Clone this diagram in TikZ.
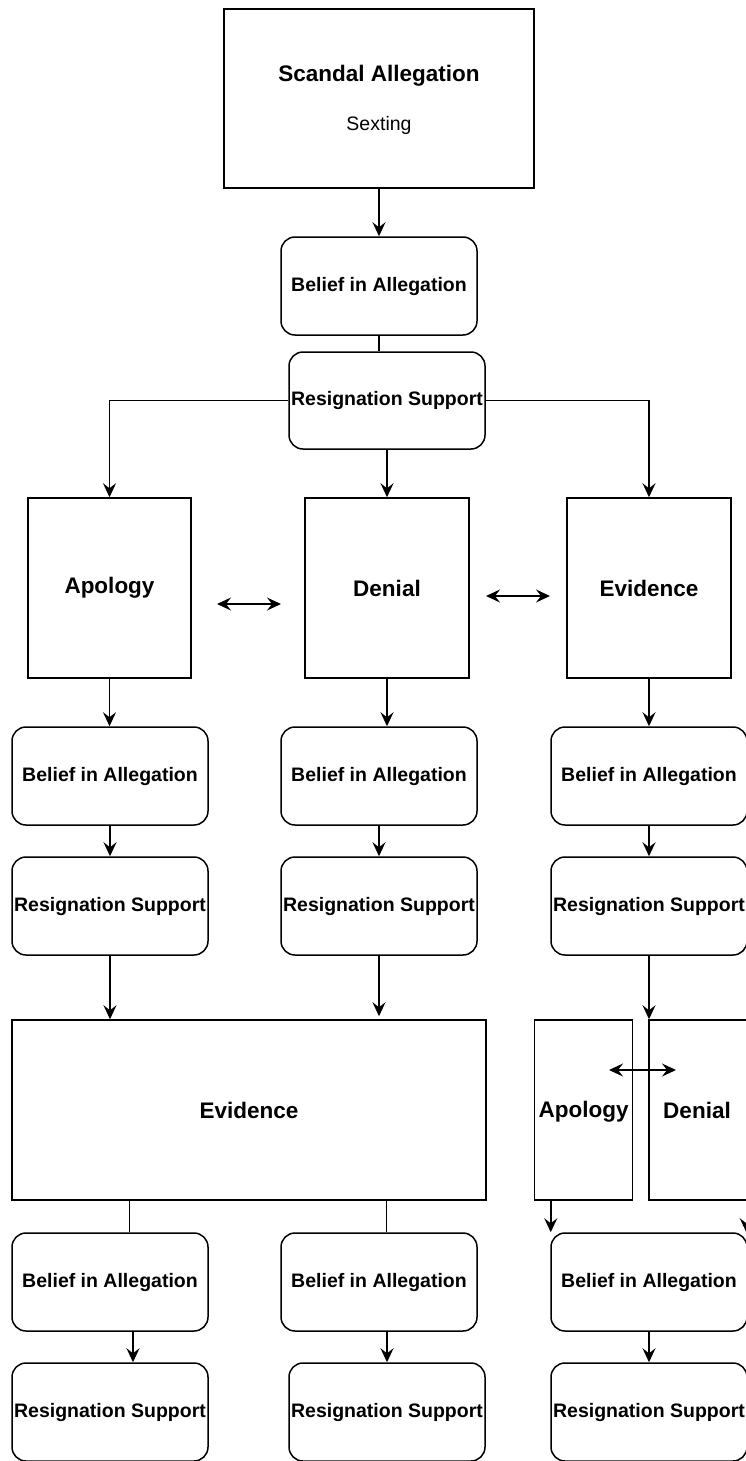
\documentclass[tikz,border=0pt]{standalone}
\usepackage{fontspec}
\setmainfont{Liberation Sans}
\usetikzlibrary{arrows.meta}
\begin{document}
\begin{tikzpicture}[x=1pt,y=-1pt,
  line width=1.5pt,
  base/.style={draw=black, line width=1.5pt, inner sep=0pt, font=\fontsize{19.5}{23}\selectfont\bfseries, align=center},
  rbox/.style={base, rectangle, rounded corners=14pt, minimum width=196pt, minimum height=98pt},
  sbox/.style={base, rectangle, font=\fontsize{22.5}{27}\selectfont\bfseries},
  arr/.style={-{Stealth[length=14pt,width=13pt,inset=5pt]}},
  darr/.style={{Stealth[length=14pt,width=13pt,inset=5pt]}-{Stealth[length=14pt,width=13pt,inset=5pt]}},
  txt/.style={inner sep=0pt}
]
\useasboundingbox[fill=white] (0,0) rectangle (745,1461);

% top
\node[sbox, minimum width=310pt, minimum height=179pt] (scandal) at (379,98.5) {};
\node[txt, font=\fontsize{22.5}{27}\selectfont\bfseries] (stitle) at (379,76) {Scandal Allegation};
\node[txt, font=\fontsize{19.5}{23}\selectfont] (ssub) at (379,125) {Sexting};
\node[rbox] (b0) at (379,286) {Belief in Allegation};
\node[rbox, minimum height=97pt] (r0) at (387,400.5) {Resignation Support};

% row 1
\node[sbox, minimum width=163pt, minimum height=180pt] (apo) at (109.5,588) {};
\node[txt, font=\fontsize{22.5}{27}\selectfont\bfseries] (apot) at (109.5,588) {Apology};
\node[sbox, minimum width=164pt, minimum height=180pt] (den) at (387,588) {Denial};
\node[sbox, minimum width=164pt, minimum height=180pt] (evi) at (649,588) {Evidence};
\coordinate (d1a) at (217,604);
\coordinate (d1b) at (281,604);
\coordinate (d2a) at (486,596);
\coordinate (d2b) at (550,596);

% row 2
\node[rbox] (b1L) at (110,776) {Belief in Allegation};
\node[rbox] (b1M) at (379,776) {Belief in Allegation};
\node[rbox] (b1R) at (649,776) {Belief in Allegation};
\node[rbox] (r1L) at (110,906) {Resignation Support};
\node[rbox] (r1M) at (379,906) {Resignation Support};
\node[rbox] (r1R) at (649,906) {Resignation Support};

% row 3
\node[sbox, minimum width=474pt, minimum height=180pt] (bigev) at (249,1110) {Evidence};
\node[sbox, minimum width=98pt, minimum height=180pt] (apo2) at (583.5,1110) {};
\node[txt, font=\fontsize{22.5}{27}\selectfont\bfseries] (apo2t) at (583.5,1112) {Apology};
\node[sbox, minimum width=101pt, minimum height=180pt] (den2) at (699.5,1110) {};
\node[txt, font=\fontsize{22.5}{27}\selectfont\bfseries] (den2t) at (697,1110) {Denial};
\coordinate (d3a) at (609,1070);
\coordinate (d3b) at (676,1070);

% row 4
\node[rbox] (b2L) at (110,1282) {Belief in Allegation};
\node[rbox] (b2M) at (379,1282) {Belief in Allegation};
\node[rbox] (b2R) at (649,1282) {Belief in Allegation};
\node[rbox] (r2L) at (110,1412) {Resignation Support};
\node[rbox] (r2M) at (387,1412) {Resignation Support};
\node[rbox] (r2R) at (649,1412) {Resignation Support};

% connectors top
\draw[arr] (scandal.south) -- (b0.north);
\draw (b0.south) -- (b0.south |- r0.north);
\draw[arr] (r0.west) -| (apo.north);
\draw[arr] (r0.east) -| (evi.north);
\draw[arr] (r0.south) -- (den.north);
\draw[darr] (d1a) -- (d1b);
\draw[darr] (d2a) -- (d2b);

% connectors row1 -> row2
\draw[arr] (apo.south) -- (apo.south |- b1L.north);
\draw[arr] (den.south) -- (den.south |- b1M.north);
\draw[arr] (evi.south) -- (b1R.north);
\draw[arr] (b1L.south) -- (r1L.north);
\draw[arr] (b1M.south) -- (r1M.north);
\draw[arr] (b1R.south) -- (r1R.north);

% row2 -> row3
\draw[arr] (r1L.south) -- (r1L.south |- bigev.north);
\draw[arr, shorten >=3pt] (r1M.south) -- (r1M.south |- bigev.north);
\draw[arr] (r1R.south) -- (r1R.south |- den2.north);
\draw[darr] (d3a) -- (d3b);

% row3 -> row4
\draw ([xshift=118pt]bigev.south west) -- ([xshift=118pt]bigev.south west |- b2L.north);
\draw ([xshift=375pt]bigev.south west) -- ([xshift=375pt]bigev.south west |- b2M.north);
\draw[arr] ([xshift=17pt]apo2.south west) -- ([xshift=17pt]apo2.south west |- b2R.north);
\draw[arr] ([xshift=98pt]den2.south west) -- ([xshift=98pt]den2.south west |- b2R.north);

% row4 -> row5
\draw[arr] ([xshift=23pt]b2L.south) -- ([xshift=23pt]b2L.south |- r2L.north);
\draw[arr] ([xshift=8pt]b2M.south) -- ([xshift=8pt]b2M.south |- r2M.north);
\draw[arr] (b2R.south) -- (r2R.north);
\end{tikzpicture}
\end{document}
